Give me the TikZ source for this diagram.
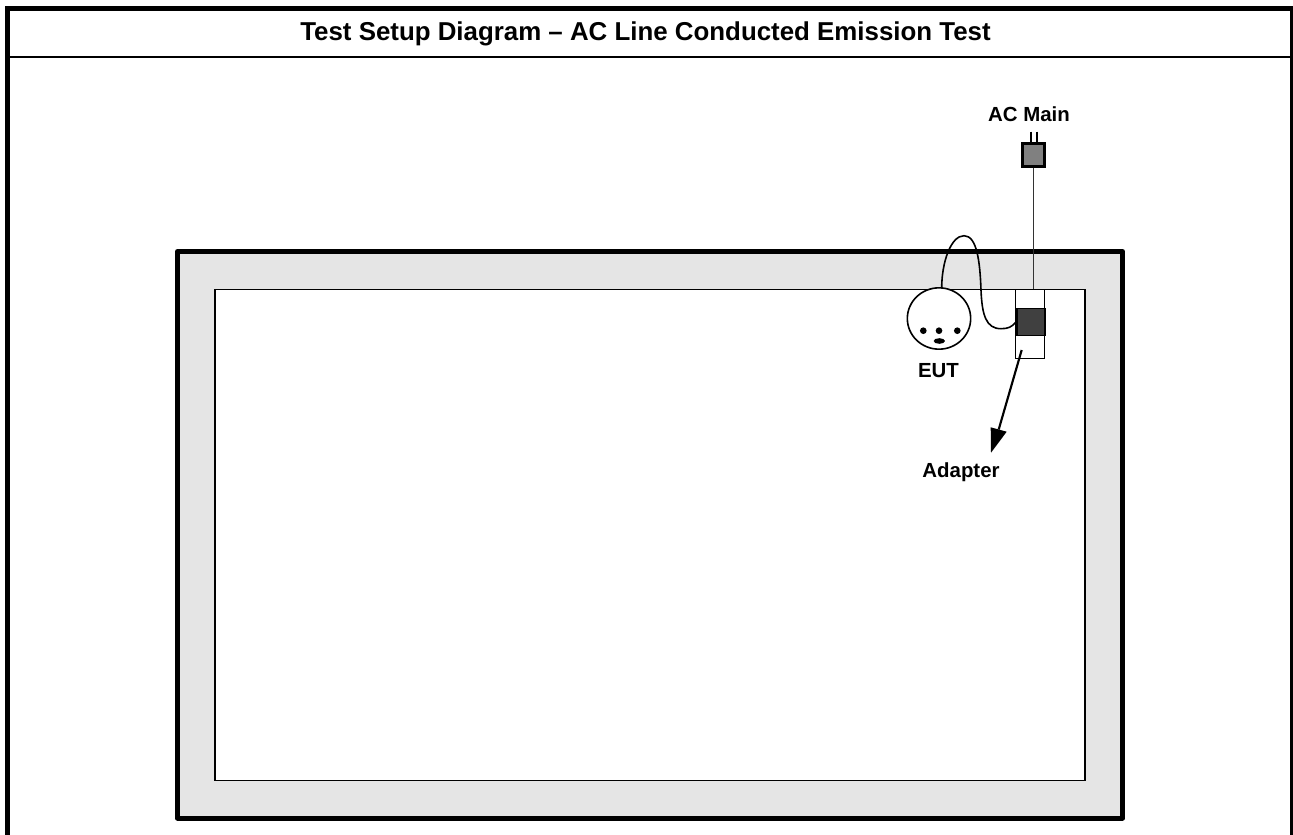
\documentclass[tikz,border=0pt]{standalone}
\usepackage{fontspec}
\setmainfont{Liberation Sans}
\usetikzlibrary{calc,shapes.geometric}
\tikzset{
  x=0.75pt,y=-0.75pt,
  lab/.style={font=\bfseries\fontsize{15.3}{18}\selectfont,inner sep=0pt,anchor=center},
  titlelab/.style={font=\bfseries\fontsize{19.4}{22}\selectfont,inner sep=0pt,anchor=center},
  thickframe/.style={line width=3.75pt,line join=round},
  thin1/.style={line width=1.2pt,black},
  dot/.style={circle,fill=black,inner sep=0pt,minimum size=5pt},
}
\begin{document}
\begin{tikzpicture}
\useasboundingbox (0,0) rectangle (1293,835);
\fill[white] (0,0) rectangle (1293,835);
% outer form frame
\draw[line width=3.75pt] (7.5,835) -- (7.5,8.5) -- (1292,8.5) -- (1292,835);
\draw[line width=1.7pt] (10,57) -- (1290,57);
\node[titlelab] (title) at (645.5,33.5) {Test Setup Diagram – AC Line Conducted Emission Test};
% table
\draw[thickframe,fill=black!10] (177.5,251.5) rectangle (1122.5,818);
\draw[line width=1pt,fill=white] (215,289.3) rectangle (1085,780.7);
% power plug
\coordinate (prongA) at (1030.7,131.7);
\coordinate (prongB) at (1036.7,131.7);
\node[draw,line width=2.3pt,fill=black!50,minimum width=17pt,minimum height=17pt,inner sep=0pt] (plug) at (1033.5,154.7) {};
\draw[line width=1.7pt] (prongA) -- (prongA |- plug.north);
\draw[line width=1.7pt] (prongB) -- (prongB |- plug.north);
\node[lab] (acmain) at (1029,114) {AC Main};
% adapter
\node[draw,thin1,fill=white,minimum width=22pt,minimum height=52pt,inner sep=0pt] (adapter) at (1030,324) {};
\node[draw,thin1,fill=black!75,minimum width=21pt,minimum height=20.5pt,inner sep=0pt] (brick) at (1030.7,322) {};
\draw[line width=1.1pt,black!80] (plug.south) -- (plug.south |- adapter.north);
% EUT
\node[draw,thin1,fill=white,ellipse,minimum width=47.5pt,minimum height=46pt,inner sep=0pt] (eut) at (939,318.5) {};
\node[dot] (d1) at (923.3,330.7) {};
\node[dot] (d2) at (939,330.7) {};
\node[dot] (d3) at (957.3,330.7) {};
\node[ellipse,fill=black,minimum width=8.5pt,minimum height=4.2pt,inner sep=0pt] (mouth) at (939.3,341) {};
\node[lab] (eutlab) at (938.5,370.5) {EUT};
% cable
\draw[thin1] (941.7,288) .. controls (941.7,262) and (951,235.7) .. (964,235.7)
  .. controls (977,235.7) and (980,262) .. (981,290)
  .. controls (982,315) and (986,328.7) .. (1001,328.7)
  .. controls (1008,328.7) and (1012,327) .. (brick.west);
% pointer
\node[lab] (adlab) at (961,472) {Adapter};
\coordinate (ptr) at (1021.7,350);
\coordinate (tip) at (991,452.7);
\coordinate (headA) at (990.7,427.3);
\coordinate (headB) at (1006.7,431.7);
\draw[line width=1.6pt] (ptr) -- ($(headA)!0.5!(headB)$);
\fill (tip) -- (headB) -- (headA) -- cycle;
\end{tikzpicture}
\end{document}
